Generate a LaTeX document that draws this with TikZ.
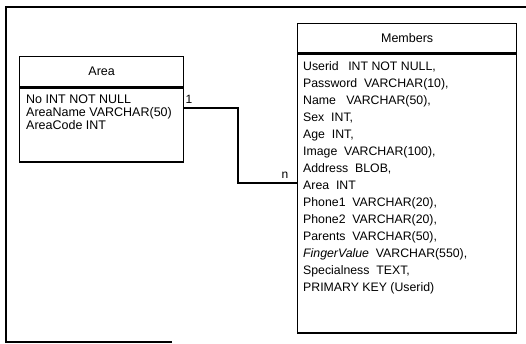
\documentclass[tikz,border=0pt]{standalone}
\usepackage{fontspec}
\setmainfont{Liberation Sans}
\usetikzlibrary{positioning}

\begin{document}
\begin{tikzpicture}[x=1pt, y=-1pt,
    tablehead/.style={rectangle, draw=black, line width=1.3pt, inner sep=0pt,
      font=\fontsize{12.5}{14}\selectfont, anchor=north west},
    tablebody/.style={rectangle, draw=black, line width=1.3pt, inner sep=0pt,
      anchor=north west},
    fields/.style={anchor=north west, align=left, inner sep=0pt},
    link/.style={line width=1.3pt},
    card/.style={font=\fontsize{12}{13}\selectfont, inner sep=0pt},
  ]
  \useasboundingbox (0,0) rectangle (526,344);

  % outer frame (open on the right)
  \coordinate (frameTR) at (526,7);
  \coordinate (frameTL) at (6,7);
  \coordinate (frameBL) at (6,342);
  \coordinate (frameBR) at (172,342);
  \draw[line width=1.2pt] (frameTR) -- (frameTL) -- (frameBL) -- (frameBR);

  % =================== AREA ===================
  \node[tablehead, minimum width=164pt, minimum height=30pt] (area) at (19,56) {Area};
  \node[tablebody, minimum width=164pt, minimum height=74pt] (areaBody) at (area.south west) {};
  \node[fields, font=\fontsize{12.5}{13}\selectfont] (areaFields) at (26,95)
    {No INT NOT NULL\\ AreaName VARCHAR(50)\\ AreaCode INT};

  % =================== MEMBERS ===================
  \node[tablehead, minimum width=219pt, minimum height=29pt] (members) at (297,23) {Members};
  \node[tablebody, minimum width=219pt, minimum height=279pt] (membersBody) at (members.south west) {};
  \node[fields, font=\fontsize{12.3}{17}\selectfont] (membersFields) at (303,61)
    {Userid\enspace\ INT NOT NULL,\\
     Password\ \ VARCHAR(10),\\
     Name\ \ \ VARCHAR(50),\\
     Sex\ \ INT,\\
     Age\ \ INT,\\
     Image\ \ VARCHAR(100),\\
     Address\ \ BLOB,\\
     Area\ \ INT\\
     Phone1\ \ VARCHAR(20),\\
     Phone2\ \ VARCHAR(20),\\
     Parents\ \ VARCHAR(50),\\
     \textit{FingerValue}\ \ VARCHAR(550),\\
     Specialness\ \ TEXT,\\
     PRIMARY KEY (Userid)};

  % =================== CONNECTION ===================
  \coordinate (oneEnd) at (areaBody.east |- 0,108);
  \coordinate (manyEnd) at (membersBody.west |- 0,183);
  \coordinate (bend) at (238,108);
  \draw[link] (oneEnd) -- (bend) |- (manyEnd);
  \node[card] (oneLabel) at (189,99) {1};
  \node[card] (manyLabel) at (285,175) {n};
\end{tikzpicture}
\end{document}
